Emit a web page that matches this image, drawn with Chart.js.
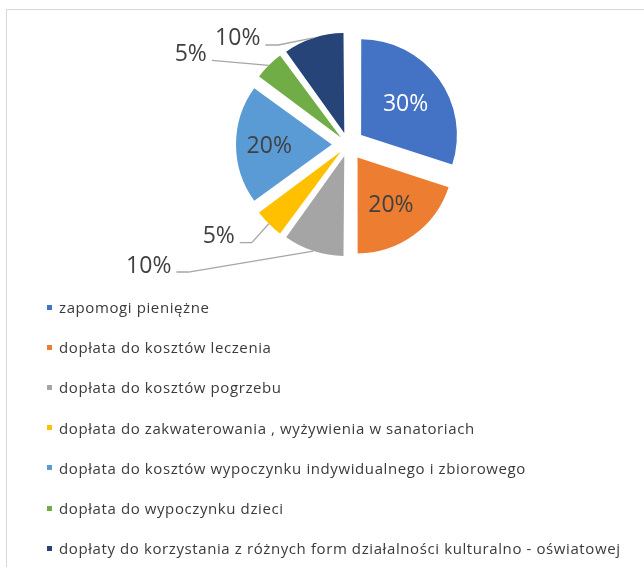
<!DOCTYPE html>
<html>
<head>
<meta charset="utf-8">
<script src="https://cdn.jsdelivr.net/npm/chart.js@4/dist/chart.umd.min.js"></script>
<style>
body { margin: 0; background: #fff; width: 644px; height: 567px; overflow: hidden; position: relative; font-family: "Open Sans", sans-serif; }
.frame { position: absolute; left: 6px; top: 9px; width: 700px; height: 620px; border: 1px solid #d9d9d9; }
#pie { position: absolute; left: 0; top: 0; }
#legend { position: absolute; left: 47px; top: 287px; }
.item { height: 40.2px; display: flex; align-items: center; font-size: 15px; letter-spacing: 0.6px; color: #3a3a3a; white-space: nowrap; }
.item .box { width: 5px; height: 5px; margin-right: 7px; flex: none; }
</style>
</head>
<body>
<div class="frame"></div>
<canvas id="pie" width="644" height="289"></canvas>
<div id="legend"></div>
<script>
const categories = [
  "zapomogi pieniężne",
  "dopłata do kosztów leczenia",
  "dopłata do kosztów pogrzebu",
  "dopłata do zakwaterowania , wyżywienia w sanatoriach",
  "dopłata do kosztów wypoczynku indywidualnego i zbiorowego",
  "dopłata do wypoczynku dzieci",
  "dopłaty do korzystania z różnych form działalności kulturalno - oświatowej"
];
const shares = [30, 20, 10, 5, 20, 5, 10];
const colors = ["#4472C4", "#ED7D31", "#A5A5A5", "#FFC000", "#5B9BD5", "#70AD47", "#264478"];

// every slice pulled out by the same number of pixels
const explode = 17;

// where each percentage label goes: inside (fraction of radius) or outside with a leader line
const labelPlace = [
  { inside: 0.57, color: "#ffffff" },
  { inside: 0.59, color: "#404040" },
  { elbow: [-125, 21], tail: 12 },
  { elbow: [-17, 19], tail: 12 },
  { inside: 0.65, color: "#404040" },
  { elbow: [-57, -5], tail: 0 },
  { elbow: [-35, 7], tail: 13 }
];

// Chart.js moves an arc by offset/4 * (1 + fix), so undo that to get a fixed pixel shift
function arcOffset(ctx) {
  const total = shares.reduce((a, b) => a + b, 0);
  const circ = shares[ctx.dataIndex] / total * Math.PI * 2;
  const fix = 1 - Math.sin(Math.min(Math.PI, circ));
  return explode * 4 / (1 + fix);
}

const pctLabels = {
  id: "pctLabels",
  afterDatasetsDraw(chart) {
    const ctx = chart.ctx;
    const meta = chart.getDatasetMeta(0);
    ctx.save();
    ctx.font = "23px 'Open Sans'";
    meta.data.forEach(function (arc, i) {
      const p = arc.getProps(["x", "y", "startAngle", "endAngle", "outerRadius"], true);
      const mid = (p.startAngle + p.endAngle) / 2;
      const dx = Math.cos(mid), dy = Math.sin(mid);
      const ax = p.x + dx * explode, ay = p.y + dy * explode;
      const place = labelPlace[i];
      const text = shares[i] + "%";
      if (place.inside) {
        ctx.fillStyle = place.color;
        ctx.textAlign = "center";
        ctx.textBaseline = "middle";
        ctx.fillText(text, ax + dx * p.outerRadius * place.inside, ay + dy * p.outerRadius * place.inside + 2);
      } else {
        const ox = ax + dx * p.outerRadius, oy = ay + dy * p.outerRadius;
        const ex = ox + place.elbow[0], ey = oy + place.elbow[1];
        ctx.strokeStyle = "#a6a6a6";
        ctx.lineWidth = 1.3;
        ctx.beginPath();
        ctx.moveTo(ox, oy);
        ctx.lineTo(ex, ey);
        ctx.lineTo(ex - place.tail, ey);
        ctx.stroke();
        ctx.fillStyle = "#404040";
        ctx.textAlign = "right";
        ctx.textBaseline = "alphabetic";
        ctx.fillText(text, ex - place.tail - 5, ey + 0.5);
      }
    });
    ctx.restore();
  }
};

const chart = new Chart(document.getElementById("pie"), {
  type: "pie",
  data: {
    labels: categories,
    datasets: [{
      data: shares,
      backgroundColor: colors,
      borderWidth: 0,
      offset: arcOffset,
      hoverOffset: 0
    }]
  },
  options: {
    responsive: false,
    animation: false,
    events: [],
    radius: 95,
    layout: { padding: { left: 52 } },
    plugins: { legend: { display: false }, tooltip: { enabled: false } }
  },
  plugins: [pctLabels]
});

const legend = document.getElementById("legend");
categories.forEach(function (name, i) {
  const item = document.createElement("div");
  item.className = "item";
  const box = document.createElement("span");
  box.className = "box";
  box.style.background = colors[i];
  const label = document.createElement("span");
  label.textContent = name;
  item.appendChild(box);
  item.appendChild(label);
  legend.appendChild(item);
});
</script>
</body>
</html>
